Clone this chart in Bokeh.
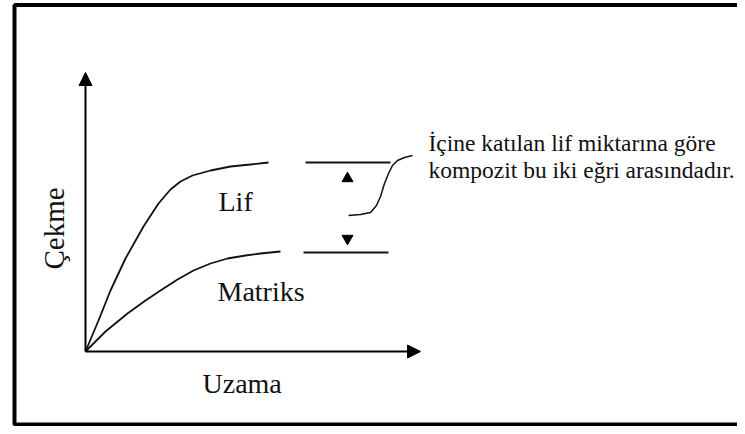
import math
from bokeh.plotting import figure
from bokeh.models import Range1d, Arrow, NormalHead, Label
from bokeh.embed import file_html
from bokeh.resources import INLINE

# --- schematic data (Uzama = elongation, Çekme = tension), arbitrary units ---
lif_x = [0, 13, 25, 40, 58, 73, 85, 95, 107, 125, 145, 165, 183]
lif_y = [0, 31, 61, 93, 125, 148, 162, 170, 176, 181, 185, 187, 189]

matriks_x = [0, 20, 42, 60, 75, 92, 108, 125, 142, 160, 175, 195]
matriks_y = [0, 20, 38, 51, 61, 72, 81, 88, 93, 96, 98, 100]

# reference levels on the right (upper = Lif, lower = Matriks)
level_x0 = [220, 218]
level_x1 = [305, 303]
level_y = [189, 99]

# up / down arrows between the levels
tri_x = [262, 262]
tri_y = [173, 113]

# brace-like S connector
s_x = [263, 275, 285, 291, 295, 299, 303, 307, 312, 319, 327]
s_y = [136, 137, 139, 146, 155, 168, 178, 186, 191, 194, 196]

x_axis_len = 335
y_axis_len = 279

label_lif = "Lif"
label_matriks = "Matriks"
label_x = "Uzama"
label_y = "Çekme"
note_lines = ["İçine katılan lif miktarına göre", "kompozit bu iki eğri arasındadır."]

FONT = "Liberation Serif"
INK = "#111111"

p = figure(width=737, height=426, output_backend="svg", toolbar_location=None,
           x_range=Range1d(-85, 652), y_range=Range1d(-75, 351),
           x_axis_type=None, y_axis_type=None, min_border=0)
p.grid.visible = False
p.outline_line_color = None
p.background_fill_color = "white"

# frame border (left, top, bottom)
p.line([660, -71, -71, 660], [346.5, 346.5, -73, -73], line_color="black", line_width=4)

# axes with arrowheads
p.add_layout(Arrow(end=NormalHead(size=13, fill_color="black", line_color="black"),
                   x_start=0, y_start=0, x_end=0, y_end=y_axis_len,
                   line_color="black", line_width=2))
p.add_layout(Arrow(end=NormalHead(size=13, fill_color="black", line_color="black"),
                   x_start=0, y_start=0, x_end=x_axis_len, y_end=0,
                   line_color="black", line_width=2))

# curves
p.line(lif_x, lif_y, line_color=INK, line_width=1.8)
p.line(matriks_x, matriks_y, line_color=INK, line_width=1.8)

# levels, markers, connector
p.segment(x0=level_x0, y0=level_y, x1=level_x1, y1=level_y, line_color=INK, line_width=1.8)
p.scatter([tri_x[0]], [tri_y[0]], marker="triangle", size=11, fill_color="black", line_color="black")
p.scatter([tri_x[1]], [tri_y[1]], marker="inverted_triangle", size=11, fill_color="black", line_color="black")
p.line(s_x, s_y, line_color=INK, line_width=1.5)

# labels
p.add_layout(Label(x=133, y=150, text=label_lif, text_font=FONT, text_font_size="28px",
                   text_color=INK, text_baseline="alphabetic"))
p.add_layout(Label(x=132, y=60, text=label_matriks, text_font=FONT, text_font_size="28px",
                   text_color=INK, text_baseline="alphabetic"))
p.add_layout(Label(x=117, y=-32, text=label_x, text_font=FONT, text_font_size="28px",
                   text_color=INK, text_baseline="alphabetic"))
p.add_layout(Label(x=-32, y=123, text=label_y, text_font=FONT, text_font_size="29px",
                   text_color=INK, text_baseline="alphabetic", text_align="center",
                   angle=math.pi / 2))
for i, line in enumerate(note_lines):
    p.add_layout(Label(x=343, y=209 - 27 * i, text=line, text_font=FONT, text_font_size="23.5px",
                       text_color=INK, text_baseline="alphabetic"))

open("out.html", "w").write(file_html(p, INLINE))
